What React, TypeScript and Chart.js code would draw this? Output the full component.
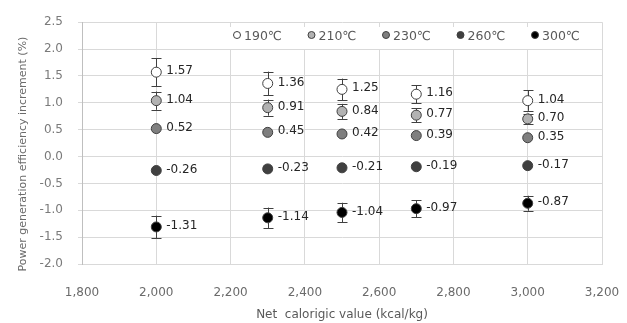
import React, { useEffect, useRef } from "react";
import { Chart, registerables } from "chart.js";

Chart.register(...registerables);

const xValues = [2000, 2300, 2500, 2700, 3000];
const seriesLabels = ["190℃", "210℃", "230℃", "260℃", "300℃"];
const s190 = [1.57, 1.36, 1.25, 1.16, 1.04];
const s210 = [1.04, 0.91, 0.84, 0.77, 0.7];
const s230 = [0.52, 0.45, 0.42, 0.39, 0.35];
const s260 = [-0.26, -0.23, -0.21, -0.19, -0.17];
const s300 = [-1.31, -1.14, -1.04, -0.97, -0.87];
const e190 = [0.26, 0.22, 0.2, 0.17, 0.19];
const e210 = [0.17, 0.15, 0.14, 0.13, 0.1];
const e230 = [0, 0, 0, 0, 0];
const e260 = [0, 0, 0, 0, 0];
const e300 = [0.21, 0.19, 0.18, 0.16, 0.14];
const xTicks = [1800, 2000, 2200, 2400, 2600, 2800, 3000, 3200];
const yTicks = [-2.0, -1.5, -1.0, -0.5, 0.0, 0.5, 1.0, 1.5, 2.0, 2.5];

const seriesValues = [s190, s210, s230, s260, s300];
const seriesErrors = [e190, e210, e230, e260, e300];
const fills = ["#ffffff", "#b2b2b2", "#7f7f7f", "#404040", "#000000"];

const FONT = "DejaVu Sans";

const errorBarPlugin = {
  id: "errorBars",
  beforeDatasetsDraw(chart: any) {
    const ctx = chart.ctx;
    const y = chart.scales.y;
    ctx.save();
    ctx.strokeStyle = "#404040";
    ctx.lineWidth = 1;
    chart.data.datasets.forEach((ds: any, di: number) => {
      const meta = chart.getDatasetMeta(di);
      const errs = seriesErrors[di];
      meta.data.forEach((pt: any, i: number) => {
        const e = errs[i];
        if (!e) return;
        const v = seriesValues[di][i];
        const yt = y.getPixelForValue(v + e);
        const yb = y.getPixelForValue(v - e);
        const x = Math.round(pt.x) + 0.5;
        ctx.beginPath();
        ctx.moveTo(x, yt);
        ctx.lineTo(x, yb);
        ctx.moveTo(x - 5, Math.round(yt) + 0.5);
        ctx.lineTo(x + 5, Math.round(yt) + 0.5);
        ctx.moveTo(x - 5, Math.round(yb) + 0.5);
        ctx.lineTo(x + 5, Math.round(yb) + 0.5);
        ctx.stroke();
      });
    });
    ctx.restore();
  },
};

const labelPlugin = {
  id: "valueLabels",
  afterDatasetsDraw(chart: any) {
    const ctx = chart.ctx;
    ctx.save();
    ctx.font = `12px "${FONT}"`;
    ctx.fillStyle = "#262626";
    ctx.textAlign = "left";
    ctx.textBaseline = "middle";
    chart.data.datasets.forEach((ds: any, di: number) => {
      const meta = chart.getDatasetMeta(di);
      meta.data.forEach((pt: any, i: number) => {
        ctx.fillText(seriesValues[di][i].toFixed(2), pt.x + 10, pt.y - 1);
      });
    });
    ctx.restore();
  },
};

const legendPlugin = {
  id: "insideLegend",
  afterDatasetsDraw(chart: any) {
    const ctx = chart.ctx;
    ctx.save();
    ctx.fillStyle = "#ffffff";
    ctx.fillRect(210, 27, 391, 22);
    ctx.font = `12.5px "${FONT}"`;
    ctx.textBaseline = "middle";
    ctx.textAlign = "left";
    chart.data.datasets.forEach((ds: any, di: number) => {
      const cx = 237 + di * 74.5;
      const cy = 35;
      ctx.beginPath();
      ctx.arc(cx, cy, 3.5, 0, Math.PI * 2);
      ctx.fillStyle = fills[di];
      ctx.fill();
      ctx.strokeStyle = "#404040";
      ctx.lineWidth = 1;
      ctx.stroke();
      ctx.fillStyle = "#595959";
      ctx.fillText(ds.label, cx + 7, cy + 1.5);
    });
    ctx.restore();
  },
};

const yTitlePlugin = {
  id: "yTitle",
  afterDraw(chart: any) {
    const ctx = chart.ctx;
    ctx.save();
    ctx.translate(23, 154);
    ctx.rotate(-Math.PI / 2);
    ctx.font = `11px "${FONT}"`;
    ctx.fillStyle = "#6b6b6b";
    ctx.textAlign = "center";
    ctx.textBaseline = "middle";
    ctx.fillText("Power generation efficiency increment (%)", 0, 0);
    ctx.restore();
  },
};

export default function App() {
  const ref = useRef<HTMLCanvasElement | null>(null);
  useEffect(() => {
    if (!ref.current) return;
    const chart = new Chart(ref.current, {
      type: "scatter",
      data: {
        datasets: seriesValues.map((vals, di) => ({
          label: seriesLabels[di],
          data: vals.map((v, i) => ({ x: xValues[i], y: v })),
          backgroundColor: fills[di],
          borderColor: "#404040",
          borderWidth: 1,
          pointRadius: 5,
          pointHoverRadius: 5,
          showLine: false,
        })),
      },
      options: {
        responsive: false,
        animation: false,
        devicePixelRatio: 1,
        layout: { padding: { left: 0, right: 25, top: 13, bottom: 0 } },
        plugins: {
          legend: { display: false },
          tooltip: { enabled: false },
        },
        scales: {
          x: {
            type: "linear",
            min: 1800,
            max: 3200,
            afterBuildTicks: (s: any) => {
              s.ticks = xTicks.map((v) => ({ value: v }));
            },
            afterFit: (s: any) => {
              s.height = 59;
              s.paddingLeft = 0;
              s.paddingRight = 0;
            },
            ticks: {
              font: { family: FONT, size: 12 },
              color: "#6b6b6b",
              padding: 22,
              callback: (v: any) => Number(v).toLocaleString("en-US"),
            },
            grid: { color: "#d9d9d9", drawTicks: false },
            border: { color: "#d9d9d9" },
            title: {
              display: true,
              text: "Net  calorigic value (kcal/kg)",
              font: { family: FONT, size: 12 },
              color: "#595959",
              padding: { top: 0, bottom: 1 },
            },
          },
          y: {
            type: "linear",
            min: -2,
            max: 2.5,
            afterBuildTicks: (s: any) => {
              s.ticks = yTicks.map((v) => ({ value: v }));
            },
            afterFit: (s: any) => {
              s.width = 82;
            },
            ticks: {
              font: { family: FONT, size: 12 },
              color: "#7a7a7a",
              padding: 15,
              callback: (v: any) => Number(v).toFixed(1),
            },
            grid: { color: "#d9d9d9", tickLength: 4 },
            border: { color: "#bfbfbf" },
          },
        },
      },
      plugins: [errorBarPlugin, labelPlugin, legendPlugin, yTitlePlugin],
    } as any);
    return () => chart.destroy();
  }, []);
  return (
    <div style={{ position: "absolute", left: 0, top: 0, width: 627, height: 323, background: "#fff" }}>
      <canvas ref={ref} width={627} height={323} />
    </div>
  );
}
